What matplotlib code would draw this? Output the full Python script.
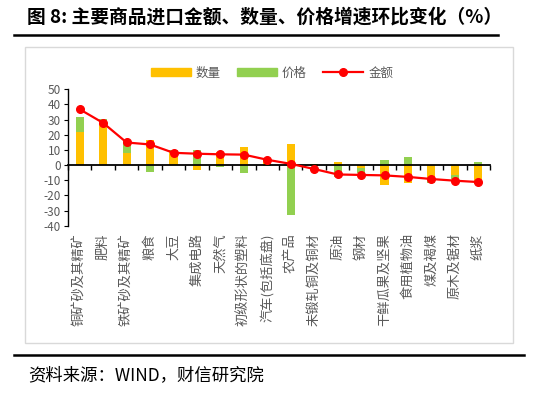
#!/usr/bin/env python3
"""Import change by commodity: amount (line) vs volume / price (stacked bars)."""

import numpy as np
import matplotlib
matplotlib.use("Agg")
import matplotlib.pyplot as plt
from matplotlib.patches import Patch, Rectangle
from matplotlib.lines import Line2D

plt.rcParams["font.family"] = ["Noto Sans CJK SC", "DejaVu Sans"]
plt.rcParams["axes.unicode_minus"] = False

categories = ["铜矿砂及其精矿", "肥料", "铁矿砂及其精矿", "粮食", "大豆", "集成电路",
              "天然气", "初级形状的塑料", "汽车(包括底盘)", "农产品", "未锻轧铜及铜材",
              "原油", "钢材", "干鲜瓜果及坚果", "食用植物油", "煤及褐煤", "原木及锯材", "纸浆"]
qty = [22, 29, 8, 16.5, 9, -3.3, 8.6, 12, 2, 14, 0.8, 2, -1.8, -13, -11.5, -8.5, -6.5, -12.7]
price = [10, 1.2, 8, -4.4, 0.8, 10, -1.3, -5, -0.5, -33, -0.8, -7.8, -3.2, 3.2, 5.5, -3.4, -2.5, 1.8]
amount = [36.8, 27.8, 14.9, 13.6, 8.1, 7.5, 7.1, 6.9, 3.5, 0.8, -2.6, -6.2, -6.5, -6.8,
          -7.8, -9.2, -10.3, -11.2]
yticks = list(range(-40, 51, 10))

ORANGE = "#FFC000"
GREEN = "#92D050"
RED = "#FF0000"
GREY = "#595959"

W, H = 550, 397
fig = plt.figure(figsize=(W / 100, H / 100), dpi=100)

# frame, rules, title, source
fig.patches.append(Rectangle((25 / W, 1 - 343 / H), 488 / W, 296 / H, transform=fig.transFigure,
                             fill=False, edgecolor="#D9D9D9", linewidth=1))
fig.lines.append(Line2D([14 / W, 498 / W], [1 - 35 / H] * 2, transform=fig.transFigure,
                        color="black", linewidth=1.8))
fig.lines.append(Line2D([14 / W, 524 / W], [1 - 355 / H] * 2, transform=fig.transFigure,
                        color="black", linewidth=1.8))
fig.text(27 / W, 1 - 17 / H, "图 8: 主要商品进口金额、数量、价格增速环比变化（%）",
         fontsize=13.5, fontweight="bold", va="center", ha="left")
fig.text(28 / W, 1 - 375 / H, "资料来源：WIND，财信研究院", fontsize=12.5, style="italic",
         va="center", ha="left")

ax = fig.add_axes([68 / W, 1 - 225.7 / H, 422 / W, 136.4 / H])
x = np.arange(len(categories))
qty = np.array(qty)
price = np.array(price)
same_sign = np.sign(qty) == np.sign(price)
price_bottom = np.where(same_sign, qty, 0)

ax.bar(x, qty, width=0.35, color=ORANGE, zorder=2)
ax.bar(x, price, bottom=price_bottom, width=0.35, color=GREEN, zorder=2)
ax.plot(x, amount, color=RED, linewidth=1.6, marker="o", markersize=5.5, zorder=4)

ax.set_xlim(-0.5, len(categories) - 0.5)
ax.set_ylim(-40, 50)
ax.set_yticks(yticks)
ax.tick_params(axis="y", colors=GREY, labelsize=8.5, length=3, width=0.8, pad=2)
ax.tick_params(axis="y", color="black")

for s in ["top", "right"]:
    ax.spines[s].set_visible(False)
ax.spines["left"].set_linewidth(1)
ax.spines["bottom"].set_position(("data", 0))
ax.spines["bottom"].set_linewidth(1.3)
ax.set_xticks(np.arange(-0.5, len(categories)), labels=[])
ax.tick_params(axis="x", direction="out", length=3.5, width=1, color="black")
ax.patch.set_alpha(0)

for i, name in enumerate(categories):
    ax.text(i, -0.055, name, transform=ax.get_xaxis_transform(), rotation=90,
            ha="center", va="top", fontsize=9.5, color=GREY)

handles = [Patch(color=ORANGE), Patch(color=GREEN),
           Line2D([], [], color=RED, linewidth=1.6, marker="o", markersize=5.5)]
fig.legend(handles, ["数量", "价格", "金额"], ncol=3, loc="center",
           bbox_to_anchor=(272 / W, 1 - 73 / H), frameon=False, fontsize=9,
           labelcolor=GREY, handlelength=3.2, handleheight=0.6, handletextpad=0.4,
           columnspacing=1.3)

fig.savefig("out.png", dpi=100)
